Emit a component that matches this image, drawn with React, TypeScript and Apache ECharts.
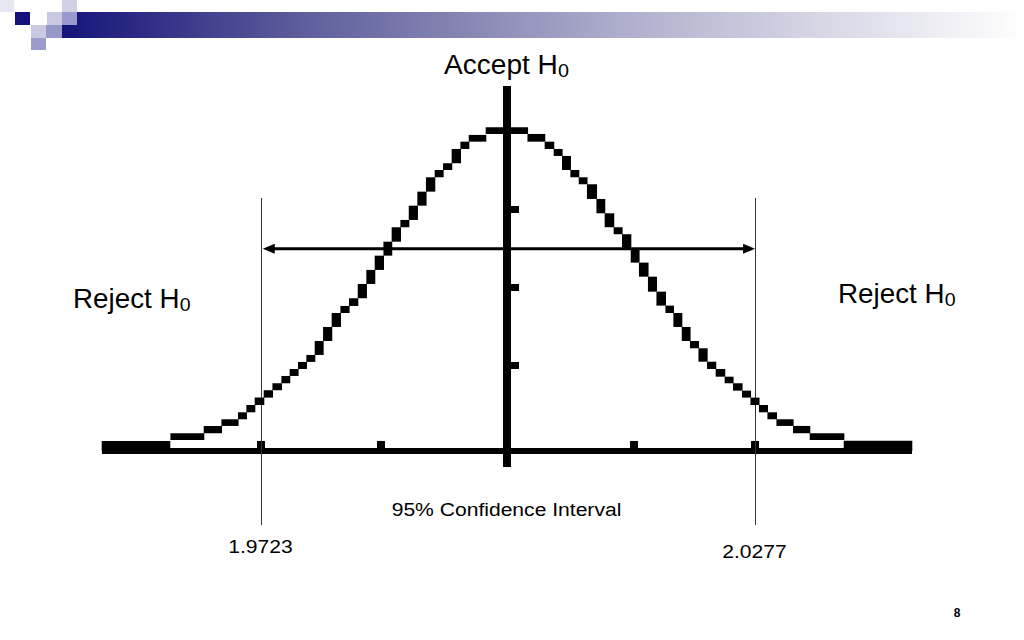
import React, { useEffect, useRef } from 'react';
import * as echarts from 'echarts';

// Staircase blocks of the normal curve: [zFrom, zTo, densityLow, densityHigh]
const CURVE_LEFT: number[][] = [
  [-3.2, -2.663, 0, 0.0125],
  [-2.657, -2.394, 0.0137, 0.0221],
  [-2.394, -2.254, 0.0221, 0.0312],
  [-2.254, -2.123, 0.0312, 0.0395],
  [-2.123, -2.057, 0.0395, 0.0482],
  [-2.057, -1.991, 0.0482, 0.0573],
  [-1.991, -1.92, 0.0573, 0.0665],
  [-1.92, -1.851, 0.0665, 0.0757],
  [-1.851, -1.78, 0.0757, 0.0844],
  [-1.78, -1.715, 0.0844, 0.0935],
  [-1.715, -1.649, 0.0935, 0.1022],
  [-1.649, -1.583, 0.1022, 0.111],
  [-1.583, -1.517, 0.111, 0.1197],
  [-1.517, -1.451, 0.1197, 0.1371],
  [-1.451, -1.383, 0.1371, 0.1546],
  [-1.383, -1.314, 0.1546, 0.172],
  [-1.314, -1.246, 0.172, 0.1808],
  [-1.246, -1.177, 0.1808, 0.1904],
  [-1.177, -1.109, 0.1904, 0.2082],
  [-1.109, -1.043, 0.2082, 0.2257],
  [-1.043, -0.974, 0.2257, 0.2435],
  [-0.974, -0.909, 0.2435, 0.2609],
  [-0.909, -0.84, 0.2609, 0.2789],
  [-0.84, -0.774, 0.2789, 0.288],
  [-0.774, -0.706, 0.288, 0.3058],
  [-0.706, -0.638, 0.3058, 0.3233],
  [-0.638, -0.569, 0.3233, 0.3412],
  [-0.569, -0.503, 0.3412, 0.3503],
  [-0.503, -0.435, 0.3503, 0.3587],
  [-0.435, -0.366, 0.3587, 0.3765],
  [-0.366, -0.3, 0.3765, 0.3856],
  [-0.3, -0.166, 0.3856, 0.394],
];
const CURVE_PEAK: number[][] = [[-0.166, 0.164, 0.3952, 0.4036]];
const CURVE_RIGHT: number[][] = [
  [0.164, 0.3, 0.3856, 0.3952],
  [0.3, 0.371, 0.3765, 0.3856],
  [0.371, 0.437, 0.3678, 0.3765],
  [0.437, 0.503, 0.3503, 0.3678],
  [0.503, 0.569, 0.3412, 0.3503],
  [0.569, 0.634, 0.3325, 0.3412],
  [0.634, 0.709, 0.3142, 0.3325],
  [0.709, 0.774, 0.2963, 0.3142],
  [0.774, 0.845, 0.2789, 0.2963],
  [0.845, 0.911, 0.2702, 0.2789],
  [0.911, 0.98, 0.2527, 0.2702],
  [0.98, 1.045, 0.2348, 0.2527],
  [1.045, 1.116, 0.2173, 0.2348],
  [1.116, 1.183, 0.1986, 0.2173],
  [1.183, 1.254, 0.1812, 0.1986],
  [1.254, 1.317, 0.172, 0.1812],
  [1.317, 1.383, 0.1546, 0.172],
  [1.383, 1.448, 0.1371, 0.1546],
  [1.448, 1.515, 0.128, 0.1371],
  [1.515, 1.583, 0.1113, 0.128],
  [1.583, 1.651, 0.1022, 0.1113],
  [1.651, 1.722, 0.0926, 0.1022],
  [1.722, 1.788, 0.0844, 0.0926],
  [1.788, 1.859, 0.0752, 0.0844],
  [1.859, 1.926, 0.0665, 0.0752],
  [1.926, 1.993, 0.0573, 0.0665],
  [1.993, 2.06, 0.0482, 0.0573],
  [2.06, 2.131, 0.0395, 0.0482],
  [2.131, 2.262, 0.0312, 0.0395],
  [2.262, 2.394, 0.0221, 0.0312],
  [2.394, 2.663, 0.0137, 0.0221],
  [2.663, 3.2, 0, 0.0128],
];

const X_TICKS = [-1.945, -1, 1, 1.96];
const Y_TICKS = [0.1072, 0.2045, 0.3017];
const CRITICAL_Z = [-1.945, 1.96];
const CRIT_LINE_RANGE = [-0.0923, 0.3154];
const CI_BOUNDS = ['1.9723', '2.0277'];
const ARROW_SPAN = [-1.93, 1.96];
const ARROW_LEVEL = 0.252;

export default function App() {
  const ref = useRef<HTMLDivElement>(null);

  useEffect(() => {
    const chart = echarts.init(ref.current!, null, { renderer: 'svg' });
    const font = "'Liberation Sans', Arial, Helvetica, sans-serif";
    const blocks = [...CURVE_LEFT, ...CURVE_PEAK, ...CURVE_RIGHT];

    const sub = (label: string) => ({
      text: `{a|${label}}{b|0}`,
      rich: {
        a: { fontSize: 27, fontFamily: font, lineHeight: 30, fill: '#000' },
        b: { fontSize: 19, fontFamily: font, lineHeight: 10, verticalAlign: 'bottom', fill: '#000' },
      },
      align: 'left',
      verticalAlign: 'middle',
      fill: '#000',
    });

    const smallText = (text: string) => ({
      text,
      font: `19px ${font}`,
      fill: '#000',
      align: 'center',
      verticalAlign: 'middle',
    });

    const barGradient = new echarts.graphic.LinearGradient(0, 0, 1, 0, [
      { offset: 0, color: '#14147a' },
      { offset: 0.25, color: '#5e5e9c' },
      { offset: 0.6, color: '#b2b2cf' },
      { offset: 1, color: '#ffffff' },
    ]);

    const option: any = {
      animation: false,
      backgroundColor: '#ffffff',
      grid: { left: 102, width: 810, top: 86, height: 381 },
      xAxis: {
        type: 'value',
        min: -3.2,
        max: 3.2,
        axisLine: { show: true, onZero: true, lineStyle: { color: '#000', width: 6, cap: 'butt' } },
        axisTick: {
          show: true,
          inside: true,
          length: 10,
          customValues: X_TICKS,
          lineStyle: { color: '#000', width: 8, cap: 'butt' },
        },
        axisLabel: { show: false },
        splitLine: { show: false },
      },
      yAxis: {
        type: 'value',
        min: -0.02,
        max: 0.455,
        axisLine: { show: true, onZero: true, lineStyle: { color: '#000', width: 8, cap: 'butt' } },
        axisTick: {
          show: true,
          inside: true,
          length: 12,
          customValues: Y_TICKS,
          lineStyle: { color: '#000', width: 7, cap: 'butt' },
        },
        axisLabel: { show: false },
        splitLine: { show: false },
      },
      series: [
        {
          type: 'custom',
          name: 'critical',
          data: CRITICAL_Z.map((z) => [z, CRIT_LINE_RANGE[0], CRIT_LINE_RANGE[1]]),
          encode: { x: 0, y: [1, 2] },
          clip: false,
          z: 3,
          renderItem: (params: any, api: any) => {
            const top = api.coord([api.value(0), api.value(2)]);
            const bot = api.coord([api.value(0), api.value(1)]);
            const x = Math.round(top[0]) + 0.5;
            return {
              type: 'line',
              shape: { x1: x, y1: top[1], x2: x, y2: bot[1] },
              style: { stroke: '#333', lineWidth: 1 },
            };
          },
        },
        {
          type: 'custom',
          name: 'curve',
          data: blocks,
          encode: { x: [0, 1], y: [2, 3] },
          clip: false,
          z: 4,
          renderItem: (params: any, api: any) => {
            const p0 = api.coord([api.value(0), api.value(3)]);
            const p1 = api.coord([api.value(1), api.value(2)]);
            return {
              type: 'rect',
              shape: { x: p0[0] - 0.3, y: p0[1], width: p1[0] - p0[0] + 0.6, height: p1[1] - p0[1] },
              style: { fill: '#000' },
            };
          },
        },
        {
          type: 'custom',
          name: 'arrow',
          data: [[ARROW_SPAN[0], ARROW_SPAN[1], ARROW_LEVEL]],
          encode: { x: [0, 1], y: 2 },
          clip: false,
          z: 5,
          renderItem: (params: any, api: any) => {
            const l = api.coord([api.value(0), api.value(2)]);
            const r = api.coord([api.value(1), api.value(2)]);
            const y = l[1];
            return {
              type: 'group',
              children: [
                {
                  type: 'line',
                  shape: { x1: l[0] + 6, y1: y, x2: r[0] - 6, y2: y },
                  style: { stroke: '#000', lineWidth: 3 },
                },
                {
                  type: 'polygon',
                  shape: { points: [[l[0], y], [l[0] + 12, y - 5], [l[0] + 12, y + 5]] },
                  style: { fill: '#000' },
                },
                {
                  type: 'polygon',
                  shape: { points: [[r[0], y], [r[0] - 12, y - 5], [r[0] - 12, y + 5]] },
                  style: { fill: '#000' },
                },
              ],
            };
          },
        },
      ],
      graphic: [
        // header bar and logo squares
        { type: 'rect', shape: { x: 62, y: 12, width: 962, height: 26 }, style: { fill: barGradient } },
        { type: 'rect', shape: { x: 0, y: 0, width: 14, height: 12 }, style: { fill: '#e6e7f3' } },
        { type: 'rect', shape: { x: 15, y: 12, width: 15, height: 13 }, style: { fill: '#12127a' } },
        { type: 'rect', shape: { x: 47, y: 12, width: 15, height: 13 }, style: { fill: '#c9c9e3' } },
        { type: 'rect', shape: { x: 62, y: 0, width: 15, height: 12 }, style: { fill: '#d0d0e7' } },
        { type: 'rect', shape: { x: 62, y: 12, width: 15, height: 13 }, style: { fill: '#9a9acf' } },
        { type: 'rect', shape: { x: 31, y: 25, width: 15, height: 13 }, style: { fill: '#c9c9e2' } },
        { type: 'rect', shape: { x: 46, y: 25, width: 16, height: 13 }, style: { fill: '#9797c9' } },
        { type: 'rect', shape: { x: 31, y: 38, width: 15, height: 12 }, style: { fill: '#9b9bcc' } },
        // annotations
        { type: 'text', x: 444, y: 65, scaleX: 1.04, style: sub('Accept H') },
        { type: 'text', x: 73, y: 299, scaleX: 1.03, style: sub('Reject H') },
        { type: 'text', x: 838, y: 294, scaleX: 1.03, style: sub('Reject H') },
        { type: 'text', x: 506.5, y: 509.5, scaleX: 1.11, style: smallText('95% Confidence Interval') },
        { type: 'text', x: 260.5, y: 546, scaleX: 1.11, style: smallText(CI_BOUNDS[0]) },
        { type: 'text', x: 754.5, y: 551, scaleX: 1.11, style: smallText(CI_BOUNDS[1]) },
        {
          type: 'text',
          x: 957,
          y: 613,
          style: { text: '8', font: `bold 12px ${font}`, fill: '#000', align: 'center', verticalAlign: 'middle' },
        },
      ],
    };

    chart.setOption(option);
    return () => chart.dispose();
  }, []);

  return (
    <div
      ref={ref}
      style={{ position: 'fixed', left: 0, top: 0, width: 1024, height: 640, background: '#fff' }}
    />
  );
}
